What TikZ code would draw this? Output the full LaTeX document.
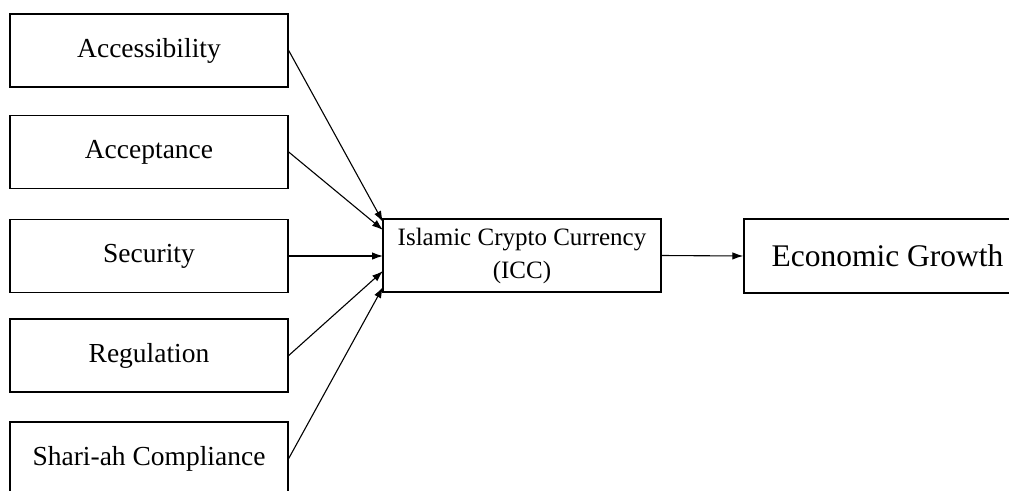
\documentclass[tikz,border=0pt]{standalone}
\usepackage{fontspec}
\setmainfont{Liberation Serif}
\usetikzlibrary{arrows.meta}
\begin{document}
\begin{tikzpicture}[x=1pt,y=-1pt,
  factor/.style={draw, line width=1.4pt, minimum width=278pt, minimum height=73pt, inner sep=0pt, font=\fontsize{27.5}{32}\selectfont},
  conn/.style={line width=1.1pt, -{Latex[length=11pt,width=7.5pt]}}]
\clip (0,0) rectangle (1009,490);
\fill[white] (0,0) rectangle (1009,490);
\node[factor] (acc) at (149,50.5) {Accessibility};
\node[factor] (acp) at (149,152) {Acceptance};
\node[factor] (sec) at (149,256) {Security};
\node[factor] (reg) at (149,355.5) {Regulation};
\node[factor] (sha) at (149,458.5) {Shari-ah Compliance};
\node[factor, font=\fontsize{25}{33}\selectfont, align=center] (icc) at (522,255.5) {Islamic Crypto Currency\\(ICC)};
\node[factor, minimum width=287pt, minimum height=74pt, font=\fontsize{31.5}{36}\selectfont] (eco) at (887.5,256) {Economic Growth};
\coordinate (e1) at (383,222);
\coordinate (e2) at (383,230);
\coordinate (e3) at (383,256);
\coordinate (e4) at (383,271);
\coordinate (e5) at (383,287);
\draw[conn] (acc.east) -- (e1);
\draw[conn] (acp.east) -- (e2);
\draw[conn] (sec.east) -- (e3);
\draw[conn] (reg.east) -- (e4);
\draw[conn] (sha.east) -- (e5);
\draw[conn] (icc.east) -- (eco.west);
\end{tikzpicture}
\end{document}
